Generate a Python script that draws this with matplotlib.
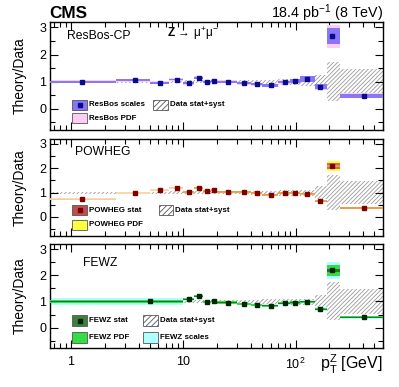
import numpy as np
import matplotlib
matplotlib.use("Agg")
import matplotlib.pyplot as plt
from matplotlib.patches import Rectangle
from matplotlib.lines import Line2D
from matplotlib.ticker import MultipleLocator, NullFormatter

plt.rcParams["font.family"] = ["Liberation Sans", "DejaVu Sans"]
plt.rcParams["mathtext.fontset"] = "custom"
plt.rcParams["mathtext.rm"] = "Liberation Sans"
plt.rcParams["mathtext.it"] = "Liberation Sans"
plt.rcParams["mathtext.bf"] = "Liberation Sans:bold"
plt.rcParams["hatch.linewidth"] = 0.6

#%% data
bin_edges  = [0, 2.5, 5, 7.5, 10, 12.5, 15, 17.5, 20, 30, 40, 50, 70, 90, 110, 150, 190, 250, 600]
pt_centers = [1.25, 3.75, 6.25, 8.75, 11.25, 13.75, 16.25, 18.75, 25, 35, 45, 60, 80, 98, 126, 165, 212, 405]

# data stat+syst band (relative to data)
data_lo = [0.96, 0.96, 0.96, 0.95, 0.95, 0.95, 0.95, 0.95, 0.94, 0.93, 0.92, 0.91, 0.88, 0.86, 0.85, 0.73, 0.28, 0.53]
data_hi = [1.04, 1.04, 1.04, 1.05, 1.05, 1.05, 1.05, 1.05, 1.06, 1.07, 1.07, 1.08, 1.09, 1.10, 1.11, 1.26, 1.74, 1.47]

# ResBos-CP
resbos           = [1.00, 1.06, 0.96, 1.08, 0.94, 1.15, 1.00, 1.04, 0.99, 0.94, 0.90, 0.87, 0.99, 1.03, 1.10, 0.82, 2.68, 0.48]
resbos_scale_err = [0.035, 0.035, 0.035, 0.035, 0.035, 0.035, 0.035, 0.035, 0.04, 0.04, 0.04, 0.05, 0.05, 0.07, 0.10, 0.09, 0.29, 0.07]
resbos_pdf_err   = [0.055, 0.055, 0.055, 0.055, 0.055, 0.055, 0.055, 0.055, 0.055, 0.055, 0.055, 0.06, 0.06, 0.08, 0.12, 0.11, 0.42, 0.09]

# POWHEG
powheg          = [0.72, 0.98, 1.10, 1.21, 1.03, 1.20, 1.05, 1.10, 1.04, 1.04, 0.99, 0.92, 0.99, 0.99, 0.95, 0.64, 2.10, 0.36]
powheg_stat_err = [0.01, 0.01, 0.01, 0.01, 0.01, 0.01, 0.01, 0.01, 0.02, 0.02, 0.02, 0.02, 0.02, 0.02, 0.02, 0.03, 0.12, 0.03]
powheg_pdf_err  = [0.02, 0.02, 0.02, 0.02, 0.03, 0.03, 0.03, 0.03, 0.03, 0.03, 0.03, 0.03, 0.03, 0.03, 0.03, 0.04, 0.21, 0.04]

# FEWZ (first bin 0-10 GeV)
fewz_edges     = [0, 10, 12.5, 15, 17.5, 20, 30, 40, 50, 70, 90, 110, 150, 190, 250, 600]
fewz_centers   = [5, 11.25, 13.75, 16.25, 18.75, 25, 35, 45, 60, 80, 98, 126, 165, 212, 405]
fewz           = [1.00, 1.08, 1.20, 0.98, 1.02, 0.96, 0.91, 0.87, 0.84, 0.93, 0.96, 0.99, 0.71, 2.19, 0.39]
fewz_stat_err  = [0.01, 0.01, 0.01, 0.01, 0.01, 0.01, 0.01, 0.01, 0.01, 0.01, 0.01, 0.01, 0.02, 0.05, 0.02]
fewz_pdf_err   = [0.07, 0.04, 0.04, 0.04, 0.04, 0.04, 0.04, 0.04, 0.04, 0.04, 0.04, 0.04, 0.04, 0.20, 0.04]
fewz_scale_err = [0.15, 0.05, 0.05, 0.05, 0.05, 0.05, 0.05, 0.05, 0.05, 0.05, 0.05, 0.05, 0.06, 0.34, 0.05]

x_min, x_max = 0.65, 600
y_min, y_max = -0.78, 3.2

W, H = 399, 387
fig = plt.figure(figsize=(W / 100, H / 100), dpi=100)


def make_axes(top, bottom):
    # axes from pixel rows (top-left origin)
    ax = fig.add_axes([50 / W, 1 - bottom / H, 333 / W, (bottom - top) / H])
    ax.set_xscale("log")
    ax.set_xlim(x_min, x_max)
    ax.set_ylim(y_min, y_max)
    ax.set_yticks([0, 1, 2, 3])
    ax.yaxis.set_minor_locator(MultipleLocator(0.5))
    ax.tick_params(which="both", direction="in", top=True, right=True, labelsize=9)
    ax.tick_params(which="major", length=6, width=0.8)
    ax.tick_params(which="minor", length=3.5, width=0.8)
    ax.tick_params(axis="y", pad=2.5)
    for s in ax.spines.values():
        s.set_linewidth(1.0)
    return ax


def bin_lo_hi(edges):
    edges = np.asarray(edges, float)
    return np.maximum(edges[:-1], x_min * 0.9), edges[1:]


def draw_band(ax, edges, vals, errs, color, z, alpha=1.0):
    lo, hi = bin_lo_hi(edges)
    vals = np.asarray(vals)
    errs = np.asarray(errs)
    ax.bar(lo, 2 * errs, width=hi - lo, bottom=vals - errs, align="edge",
           color=color, lw=0, zorder=z, alpha=alpha)


def draw_data(ax):
    lo, hi = bin_lo_hi(bin_edges)
    ax.bar(lo, np.array(data_hi) - np.array(data_lo), width=hi - lo, bottom=data_lo,
           align="edge", facecolor="none", edgecolor="#9a9a9a", hatch="////////", lw=0, zorder=1)


def legend_entry(x0, y0, x1, y1, label, face, hatch=None, marker_color=None):
    fig.add_artist(Rectangle((x0 / W, 1 - y1 / H), (x1 - x0) / W, (y1 - y0) / H,
                             transform=fig.transFigure, facecolor=face,
                             edgecolor="#555555", lw=0.6, hatch=hatch))
    if marker_color is not None:
        fig.add_artist(Line2D([(x0 + x1) / 2 / W], [1 - (y0 + y1) / 2 / H], marker="s",
                              ms=3.4, color=marker_color, transform=fig.transFigure))
    fig.text((x1 + 2) / W, 1 - (y0 + y1) / 2 / H, label, fontsize=5.7,
             fontweight="bold", va="center", ha="left")


# %% panel 1: ResBos
ax1 = make_axes(22, 130)
draw_data(ax1)
draw_band(ax1, bin_edges, resbos, resbos_pdf_err, "#ffccf5", 2)
draw_band(ax1, bin_edges, resbos, resbos_scale_err, "#8878f5", 3)
ax1.plot(pt_centers, resbos, "s", color="#0a0a8c", ms=3.4, zorder=5)
ax1.xaxis.set_major_formatter(NullFormatter())
ax1.xaxis.set_minor_formatter(NullFormatter())
fig.text(67 / W, 1 - 36 / H, "ResBos-CP", fontsize=8.7, va="center", ha="left")
fig.text(167 / W, 1 - 34 / H, r"$\mathbf{Z}\,\rightarrow\,\mu^{+}\mu^{-}$", fontsize=8.5,
         va="center", ha="left")

legend_entry(72, 100, 87, 110, "ResBos scales", "#8878f5", marker_color="#0a0a8c")
legend_entry(153, 100, 168, 110, "Data stat+syst", "white", hatch="//////")
legend_entry(72, 113, 87, 123, "ResBos PDF", "#ffccf5")

# %% panel 2: POWHEG
ax2 = make_axes(139, 236)
draw_data(ax2)
draw_band(ax2, bin_edges, powheg, powheg_pdf_err, "#ffff40", 2)
draw_band(ax2, bin_edges, powheg, powheg_stat_err, "#c04040", 3, alpha=0.75)
lo, hi = bin_lo_hi(bin_edges)
# low pT lines look paler in the original
line_cols = np.where(np.array(pt_centers) < 10, "#f6d8ae", "#eba04a")
ax2.hlines(powheg, lo, hi, colors=line_cols, lw=1.3, zorder=4)
ax2.plot(pt_centers, powheg, "s", color="#800000", ms=3.4, zorder=5)
ax2.xaxis.set_major_formatter(NullFormatter())
ax2.xaxis.set_minor_formatter(NullFormatter())
fig.text(75 / W, 1 - 152 / H, "POWHEG", fontsize=8.7, va="center", ha="left")

legend_entry(72, 205, 87, 215, "POWHEG stat", "#c05050", marker_color="#800000")
legend_entry(159, 205, 173, 215, "Data stat+syst", "white", hatch="//////")
legend_entry(72, 220, 87, 230, "POWHEG PDF", "#ffff40")

# %% panel 3: FEWZ
ax3 = make_axes(244, 348)
draw_data(ax3)
draw_band(ax3, fewz_edges, fewz, fewz_scale_err, "#b0ffff", 2)
draw_band(ax3, fewz_edges, fewz, fewz_pdf_err, "#33dd44", 3)
draw_band(ax3, fewz_edges, fewz, fewz_stat_err, "#2e6e2e", 4)
ax3.plot(fewz_centers, fewz, "s", color="#002800", ms=3.4, zorder=5)
ax3.set_xticks([1, 10, 100])
ax3.set_xticklabels(["1", "10", r"$10^{2}$"])
ax3.xaxis.set_minor_formatter(NullFormatter())
ax3.tick_params(axis="x", pad=6)
fig.text(83 / W, 1 - 263 / H, "FEWZ", fontsize=8.7, va="center", ha="left")

legend_entry(72, 315, 87, 326, "FEWZ stat", "#3f7f3f", marker_color="#002800")
legend_entry(143, 315, 158, 326, "Data stat+syst", "white", hatch="//////")
legend_entry(72, 332, 87, 343, "FEWZ PDF", "#33dd44")
legend_entry(143, 332, 158, 343, "FEWZ scales", "#b0ffff")

# %% labels
for ax in (ax1, ax2, ax3):
    bb = ax.get_position()
    fig.text(20 / W, (bb.y0 + bb.y1) / 2, "Theory/Data", rotation=90, fontsize=10,
             va="center", ha="center")

fig.text(383 / W, 1 - 364 / H, r"$\mathrm{p}_{\mathrm{T}}^{\mathrm{Z}}$ [GeV]", fontsize=11.5,
         ha="right", va="center")
fig.text(49 / W, 1 - 18.3 / H, "CMS", fontsize=12.3, fontweight="bold", ha="left", va="baseline")
fig.text(383 / W, 1 - 18.3 / H, r"18.4 pb$^{-1}$ (8 TeV)", fontsize=10.3, ha="right", va="baseline")

fig.savefig("out.png", dpi=100)
